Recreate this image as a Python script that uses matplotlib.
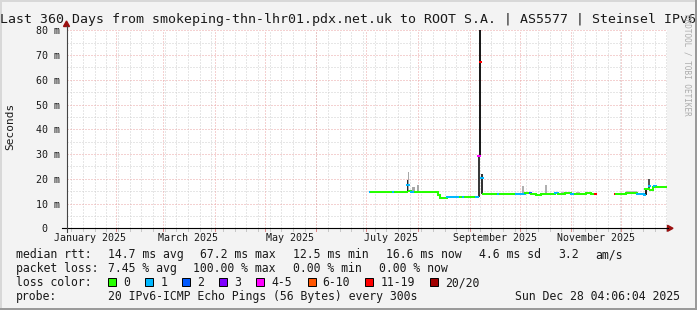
import matplotlib
matplotlib.use("Agg")
import matplotlib.pyplot as plt
import matplotlib.dates as mdates
from matplotlib.collections import LineCollection
from matplotlib.patches import Rectangle, Polygon
from matplotlib.lines import Line2D
import numpy as np
from datetime import datetime, timedelta

# ---------------- data ----------------
title = "Last 360 Days from smokeping-thn-lhr01.pdx.net.uk to ROOT S.A. | AS5577 | Steinsel IPv6"
start_time = "2025-01-02 04:06:04"
end_time = "2025-12-28 04:06:04"

y_ticks = [0, 10, 20, 30, 40, 50, 60, 70, 80]
y_tick_labels = ["0  ", "10 m", "20 m", "30 m", "40 m", "50 m", "60 m", "70 m", "80 m"]

month_labels = ["January 2025", "March 2025", "May 2025", "July 2025",
                "September 2025", "November 2025"]
month_label_dates = ["2025-01-16", "2025-03-16", "2025-05-16", "2025-07-16",
                     "2025-09-16", "2025-11-16"]

# median rtt (ms) and packet loss (of 20) per interval; NaN ends a run
med_dates = [
    "2025-07-03 00:00", "2025-07-04 00:00", "2025-07-17 00:00", "2025-07-18 00:00",
    "2025-07-25 12:00", "2025-07-26 12:00", "2025-07-28 00:00", "2025-07-30 00:00",
    "2025-08-13 06:00", "2025-08-14 12:00", "2025-08-18 12:00", "2025-08-26 00:00",
    "2025-08-28 00:00", "2025-08-29 00:00", "2025-09-05 00:00",
    "2025-09-05 20:00", "2025-09-07 00:00", "2025-09-07 20:00",
    "2025-09-09 04:00", "2025-09-18 00:00", "2025-09-19 00:00", "2025-09-24 00:00",
    "2025-09-29 00:00", "2025-10-04 00:00", "2025-10-07 00:00", "2025-10-08 00:00",
    "2025-10-11 00:00", "2025-10-14 00:00", "2025-10-18 00:00", "2025-10-22 00:00",
    "2025-10-24 00:00", "2025-10-28 00:00", "2025-11-01 00:00", "2025-11-03 00:00",
    "2025-11-07 00:00", "2025-11-10 00:00", "2025-11-13 00:00", "2025-11-15 04:00",
    "2025-11-15 20:00",
    "2025-11-27 00:00", "2025-11-27 14:00", "2025-12-04 00:00", "2025-12-10 10:00",
    "2025-12-14 10:00", "2025-12-15 10:00", "2025-12-17 10:00", "2025-12-18 10:00",
    "2025-12-20 00:00", "2025-12-20 20:00", "2025-12-21 20:00", "2025-12-28 04:06",
]
med_ms = [
    14.7, 14.7, 14.7, 14.7,
    17.4, 14.9, 14.7, 14.7,
    13.5, 12.2, 12.6, 12.6,
    12.6, 12.6, 12.6,
    29.1, 67.2, 20.3,
    13.8, 13.8, 13.8, 13.9,
    13.8, 14.1, 14.2, 14.0,
    13.6, 14.0, 13.7, 14.1,
    13.8, 14.2, 13.8, 14.0,
    13.7, 14.1, 13.9, 13.9,
    np.nan,
    14.0, 14.0, 14.3, 13.9,
    13.6, 16.0, 17.0, 15.6,
    16.7, 17.0, 16.7, np.nan,
]
med_loss = [
    1, 0, 1, 0,
    1, 0, 1, 0,
    0, 0, 1, 0,
    1, 0, 1,
    4, 12, 1,
    0, 1, 0, 0,
    1, 0, 2, 0,
    0, 0, 0, 1,
    0, 0, 1, 0,
    0, 0, 0, 12,
    0,
    12, 0, 0, 1,
    1, 0, 1, 0,
    0, 1, 0, 0,
]

# smoke (spread of the 20 pings)
smoke_dates = ["2025-07-25 08:00", "2025-07-26 04:00", "2025-07-28 12:00", "2025-07-31 12:00",
               "2025-09-05 20:00", "2025-09-06 20:00", "2025-09-07 20:00",
               "2025-10-02 12:00", "2025-10-16 12:00", "2025-10-26 00:00", "2025-11-04 00:00",
               "2025-11-09 00:00", "2025-12-04 00:00", "2025-12-15 10:00", "2025-12-17 00:00",
               "2025-12-19 20:00"]
smoke_days = [0.8, 0.8, 1.5, 1.4,
              1.2, 0.9, 1.3,
              1.2, 0.7, 3.0, 2.5,
              3.0, 6.4, 0.8, 1.4,
              0.7]
smoke_lo = [14.7, 15.0, 14.7, 14.7,
            12.6, 29.1, 13.8,
            13.9, 13.9, 13.9, 13.9,
            13.9, 14.3, 13.6, 16.0,
            15.6]
smoke_hi = [19.7, 22.7, 16.7, 17.4,
            29.1, 80.5, 22.0,
            17.0, 17.4, 14.7, 14.7,
            14.8, 15.1, 16.0, 20.1,
            16.8]
smoke_shade = ["#2a2a2a", "#a8a8a8", "#a8a8a8", "#a8a8a8",
               "#3a3a3a", "#1a1a1a", "#333333",
               "#b0b0b0", "#b0b0b0", "#b8b8b8", "#b8b8b8",
               "#b8b8b8", "#bdbdbd", "#222222", "#555555",
               "#222222"]

loss_labels = ["0", "1", "2", "3", "4-5", "6-10", "11-19", "20/20"]
loss_colors = ["#26ff00", "#00b8ff", "#0059ff", "#7e00ff",
               "#ff00ff", "#ff5500", "#ff0000", "#a10000"]

rtt_items = ["14.7 ms avg", "67.2 ms max", "12.5 ms min", "16.6 ms now", "4.6 ms sd", "3.2", "am/s"]
loss_items = ["7.45 % avg", "100.00 % max", "0.00 % min", "0.00 % now"]
probe_text = "20 IPv6-ICMP Echo Pings (56 Bytes) every 300s"
stamp_text = "Sun Dec 28 04:06:04 2025"


def loss_class(n):
    if n <= 3:
        return n
    if n <= 5:
        return 4
    if n <= 10:
        return 5
    if n <= 19:
        return 6
    return 7


# ---------------- figure ----------------
W, H = 697, 310
MONO = "DejaVu Sans Mono"
TXT = "#1a1a1a"
fig = plt.figure(figsize=(W / 100, H / 100), dpi=100, facecolor="#f3f3f3")


def P(x, y):
    return (x / W, 1 - y / H)


AX_L, AX_R, AX_T, AX_B = 66.5, 666.5, 30.3, 228.3
ax = fig.add_axes([AX_L / W, (H - AX_B) / H, (AX_R - AX_L) / W, (AX_B - AX_T) / H])
ax.set_facecolor("white")
for s in ax.spines.values():
    s.set_visible(False)

t0 = datetime.fromisoformat(start_time)
t1 = datetime.fromisoformat(end_time)
ax.set_xlim(mdates.date2num(t0), mdates.date2num(t1))
ax.set_ylim(0, 80)

# grid
grid_dash = (0, (1, 2))
for v in range(5, 80, 10):
    ax.axhline(v, color="#cfcfcf", lw=0.72, ls=grid_dash, zorder=0.5)
for v in range(10, 81, 10):
    ax.axhline(v, color="#eba5a5", lw=0.72, ls=grid_dash, zorder=0.6)

sundays = []
d = datetime(t0.year, t0.month, t0.day)
while d.weekday() != 6:
    d += timedelta(days=1)
while d <= t1:
    sundays.append(d)
    d += timedelta(days=7)
month_starts = []
m = datetime(2025, 2, 1)
while m <= t1:
    month_starts.append(m)
    m = datetime(m.year + (m.month // 12), m.month % 12 + 1, 1)

xt = ax.get_xaxis_transform()
for d in sundays:
    xn = mdates.date2num(d)
    ax.axvline(xn, color="#cfcfcf", lw=0.72, ls=grid_dash, zorder=0.5)
    ax.plot([xn, xn], [0, -3 / 198], transform=xt, color="#c8c8c8", lw=0.72,
            clip_on=False, zorder=4)
for d in month_starts:
    xn = mdates.date2num(d)
    ax.axvline(xn, color="#eba5a5", lw=0.72, ls=grid_dash, zorder=0.6)
    ax.plot([xn, xn], [0, -3 / 198], transform=xt, color="#e08a8a", lw=0.72,
            clip_on=False, zorder=4)

# smoke
sd = [mdates.date2num(datetime.fromisoformat(s)) for s in smoke_dates]
ax.bar(sd, np.array(smoke_hi) - np.array(smoke_lo), bottom=smoke_lo, width=smoke_days,
       align="edge", color=smoke_shade, linewidth=0, zorder=2)

# median line coloured by loss
md = [mdates.date2num(datetime.fromisoformat(s)) for s in med_dates]
segs, cols = [], []
for i in range(len(md) - 1):
    v = med_ms[i]
    if np.isnan(v):
        continue
    c = loss_colors[loss_class(med_loss[i])]
    segs.append([(md[i], v), (md[i + 1], v)])
    cols.append(c)
    nv = med_ms[i + 1]
    if (not np.isnan(nv)) and loss_class(med_loss[i + 1]) == loss_class(med_loss[i]) and nv != v:
        segs.append([(md[i + 1], v), (md[i + 1], nv)])
        cols.append(c)
ax.add_collection(LineCollection(segs, colors=cols, linewidths=1.45,
                                 capstyle="projecting", zorder=3))

# ticks / labels
ax.set_xticks([])
ax.set_yticks(y_ticks)
ax.set_yticklabels(y_tick_labels, family=MONO, fontsize=7.2, color=TXT)
ax.tick_params(axis="y", length=0, pad=4.7)
for d, lab in zip(month_label_dates, month_labels):
    ax.text(mdates.date2num(datetime.fromisoformat(d)), -(241 - AX_B) / 198, lab,
            transform=xt, ha="center", va="baseline", family=MONO, fontsize=7.2, color=TXT)

# axis lines with arrows
fig.add_artist(Line2D([62 / W, 668 / W], [P(0, AX_B)[1]] * 2, color="black", lw=0.8,
                      transform=fig.transFigure))
fig.add_artist(Polygon([P(667.5, 225.3), P(673, 228.3), P(667.5, 231.3)], closed=True,
                       color="#9a1010", transform=fig.transFigure))
fig.add_artist(Line2D([AX_L / W] * 2, [P(0, 231.5)[1], P(0, 25.5)[1]], color="#444444",
                      lw=0.8, transform=fig.transFigure))
fig.add_artist(Polygon([P(63.5, 26.5), P(AX_L, 21), P(69.5, 26.5)], closed=True,
                       color="#9a1010", transform=fig.transFigure))

# title, y label, watermark
fig.text(0.5, P(0, 23)[1], title, ha="center", va="baseline", family=MONO,
         fontsize=9.55, color=TXT)
fig.text(*P(10.7, 126.7), "Seconds", rotation=90, ha="center", va="center",
         family=MONO, fontsize=8, color=TXT)
fig.text(*P(686.5, 65), "RRDTOOL / TOBI OETIKER", rotation=270, ha="center", va="center",
         family=MONO, fontsize=5.5, color="#ababab")

# legend
LF = 8.3
rows_y = [258, 272, 286, 300]
fig.text(*P(15.6, rows_y[0]), "median rtt:", ha="left", va="baseline", family=MONO,
         fontsize=LF, color=TXT)
for x, s in zip([107.6, 200.3, 293.3, 385.5, 479.0, 557.8, 595.6], rtt_items):
    fig.text(*P(x, rows_y[0]), s, ha="left", va="baseline", family=MONO, fontsize=LF, color=TXT)
fig.text(*P(15.6, rows_y[1]), "packet loss:", ha="left", va="baseline", family=MONO,
         fontsize=LF, color=TXT)
for x, s in zip([107.6, 193.3, 293.3, 378.7], loss_items):
    fig.text(*P(x, rows_y[1]), s, ha="left", va="baseline", family=MONO, fontsize=LF, color=TXT)
fig.text(*P(15.6, rows_y[2]), "loss color:", ha="left", va="baseline", family=MONO,
         fontsize=LF, color=TXT)
for bx, lab, col in zip([108, 145.3, 182.2, 219, 256.4, 307.6, 365.3, 430.2],
                        loss_labels, loss_colors):
    fig.add_artist(Rectangle(P(bx, 286.3), 8 / W, 8 / H, facecolor=col, edgecolor="black",
                             lw=0.7, transform=fig.transFigure))
    fig.text(*P(bx + 15, rows_y[2]), lab, ha="left", va="baseline", family=MONO,
             fontsize=LF, color=TXT)
fig.text(*P(15.6, rows_y[3]), "probe:", ha="left", va="baseline", family=MONO,
         fontsize=LF, color=TXT)
fig.text(*P(107.6, rows_y[3]), probe_text, ha="left", va="baseline", family=MONO,
         fontsize=LF, color=TXT)
fig.text(*P(680, rows_y[3]), stamp_text, ha="right", va="baseline", family=MONO,
         fontsize=LF, color=TXT)

# frame shading
fig.add_artist(Rectangle((0, 0), 2 / W, 1, color="#d8d8d8", transform=fig.transFigure, lw=0))
fig.add_artist(Rectangle((0, 1 - 2 / H), 1, 2 / H, color="#d8d8d8", transform=fig.transFigure, lw=0))
fig.add_artist(Rectangle((1 - 2.5 / W, 0), 2.5 / W, 1, color="#9a9a9a", transform=fig.transFigure, lw=0))
fig.add_artist(Rectangle((0, 0), 1, 2.5 / H, color="#9a9a9a", transform=fig.transFigure, lw=0))

fig.savefig("out.png", dpi=100, facecolor=fig.get_facecolor())
